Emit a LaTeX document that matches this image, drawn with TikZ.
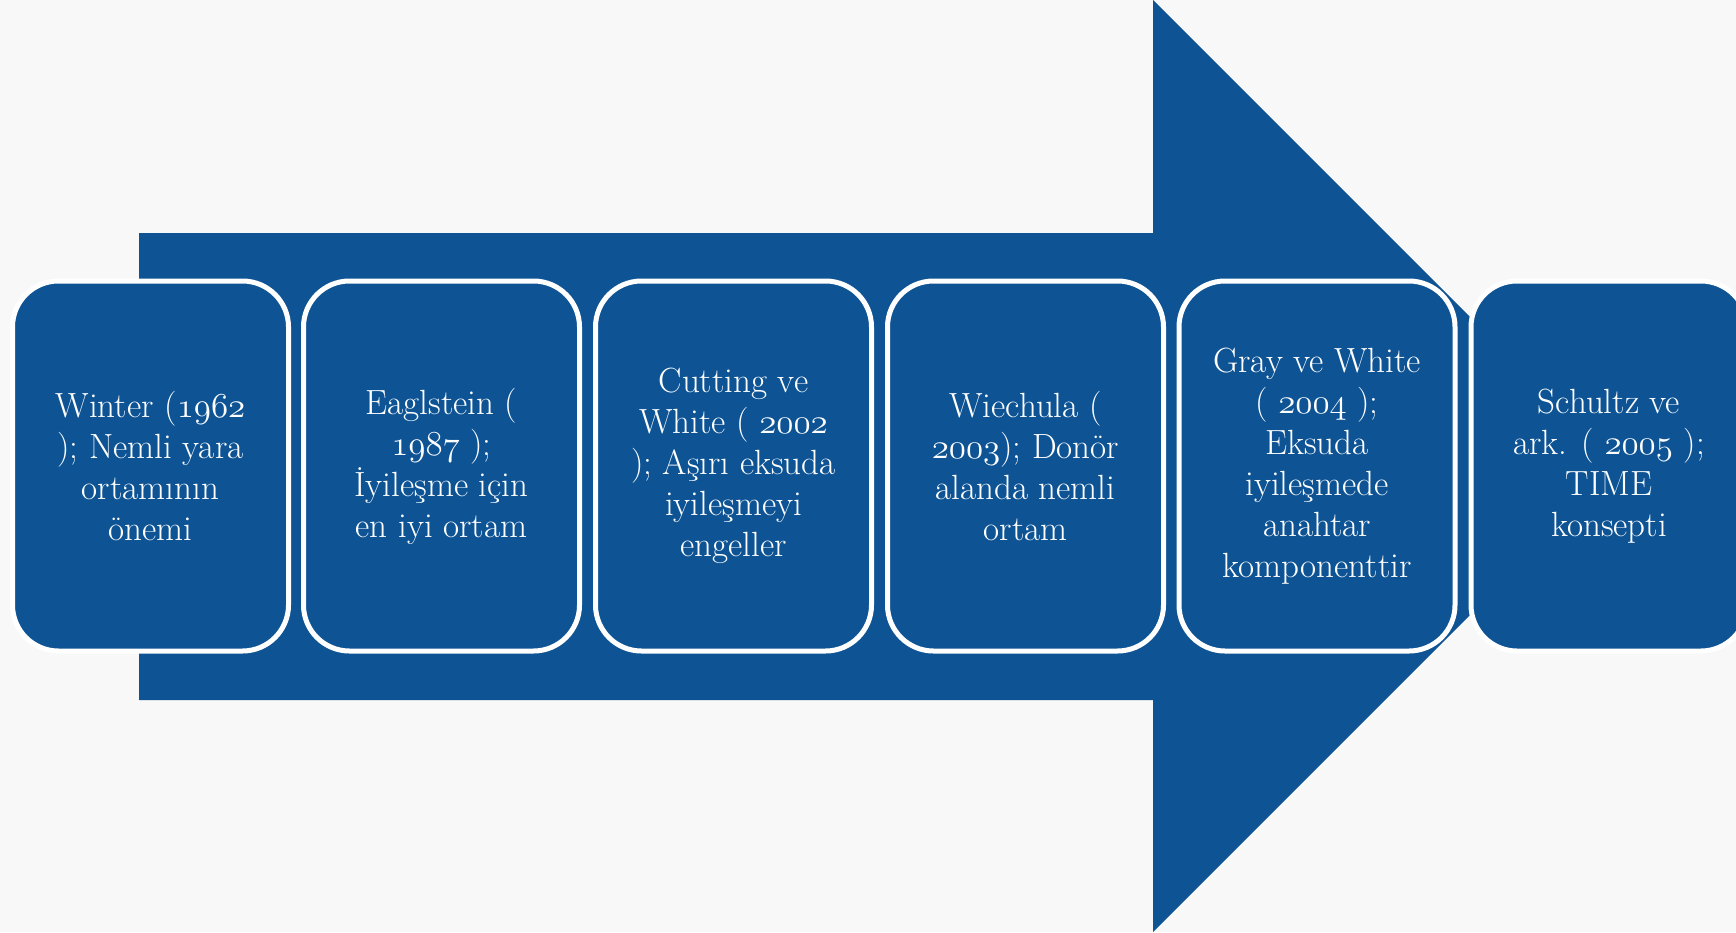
\documentclass[tikz,border=0pt]{standalone}
\usepackage{fontspec}
\setmainfont{Latin Modern Roman}
\newcommand{\osn}[1]{\scalebox{1.4068}{\fontencoding{OML}\fontfamily{cmm}\fontseries{m}\fontshape{it}\fontsize{24.88}{30}\selectfont #1}}
\definecolor{arrowblue}{RGB}{14,84,149}
\definecolor{bgpaper}{RGB}{248,248,248}
\tikzset{
  stage/.style={draw=white, line width=5pt, fill=arrowblue, rounded corners=46pt,
    minimum width=276pt, minimum height=370pt, text=white, align=center,
    font=\fontsize{35}{41}\selectfont, inner sep=0pt},
  bigarrow/.style={fill=arrowblue}
}
\begin{document}
\begin{tikzpicture}[x=1pt,y=-1pt]
\fill[bgpaper] (0,0) rectangle (1736,932);
\useasboundingbox (0,0) rectangle (1736,932);
\fill[bigarrow] (139,233) -- (1153,233) -- (1153,0) -- (1619,466) -- (1153,932) -- (1153,700) -- (139,700) -- cycle;
\node[stage] (s1) at (150.5,466) {Winter (\osn{1962}\\); Nemli yara\\ortamının\\önemi};
\node[stage] (s2) at (441.5,466) {Eaglstein (\\\osn{1987} );\\İyileşme için\\en iyi ortam};
\node[stage] (s3) at (733.5,466) {Cutting ve\\White ( \osn{2002}\\); Aşırı eksuda\\iyileşmeyi\\engeller};
\node[stage] (s4) at (1025.5,466) {Wiechula (\\\osn{2003}); Donör\\alanda nemli\\ortam};
\node[stage] (s5) at (1317,466) {Gray ve White\\( \osn{2004} );\\Eksuda\\iyileşmede\\anahtar\\komponenttir};
\node[stage] (s6) at (1609,466) {Schultz ve\\ark. ( \osn{2005} );\\TIME\\konsepti};
\end{tikzpicture}
\end{document}
